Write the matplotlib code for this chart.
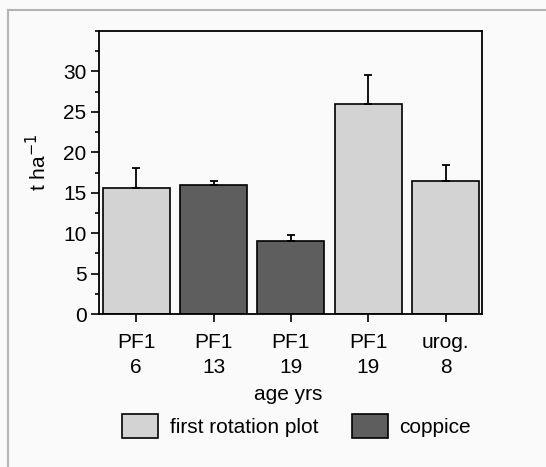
import matplotlib.pyplot as plt
from matplotlib.patches import Patch, Rectangle
from matplotlib.ticker import MultipleLocator

plt.rcParams['font.family'] = ['Liberation Sans', 'DejaVu Sans']

labels = ['PF1\n6', 'PF1\n13', 'PF1\n19', 'PF1\n19', 'urog.\n8']
values = [15.6, 15.9, 9.0, 26.0, 16.4]
errors = [2.4, 0.5, 0.8, 3.6, 2.0]
groups = ['first', 'coppice', 'coppice', 'first', 'first']

light = '#d3d3d3'
dark = '#5e5e5e'
colors = [light if g == 'first' else dark for g in groups]

fig = plt.figure(figsize=(5.46, 4.67), dpi=100)
fig.patch.set_facecolor('#fafafa')
# scanned page frame line (top and left)
fig.patches.append(Rectangle((8 / 546, -0.1), 1.2, 1.1 - 10 / 467, transform=fig.transFigure,
                             fill=False, edgecolor='#b4b4b4', linewidth=1.5))

ax = fig.add_axes([99 / 546, 1 - 314 / 467, 383 / 546, 283 / 467])
ax.set_facecolor('#fafafa')
x = list(range(len(values)))
ax.bar(x, values, width=0.865, color=colors, edgecolor='black', linewidth=1.2,
       yerr=[[0] * len(errors), errors], capsize=3,
       error_kw=dict(ecolor='black', elinewidth=1.3, capthick=1.3), zorder=2)

fs = 15
ax.set_xlim(-0.48, 4.47)
ax.set_ylim(0, 35)
ax.yaxis.set_minor_locator(MultipleLocator(2.5))
ax.set_yticks([0, 5, 10, 15, 20, 25, 30])
ax.set_xticks(x)
ax.set_xticklabels(labels, fontsize=fs, linespacing=1.4)
ax.tick_params(axis='y', labelsize=fs, length=6, width=1.2, pad=3)
ax.tick_params(axis='y', which='minor', length=3, width=1.2)
ax.tick_params(axis='x', length=6, width=1.2, pad=8)
for s in ax.spines.values():
    s.set_linewidth(1.3)

ax.set_ylabel('t ha$^{-1}$', fontsize=fs)
ax.yaxis.set_label_coords(-0.127, 0.534)
ax.set_xlabel('age yrs', fontsize=fs)
ax.xaxis.set_label_coords(0.495, -0.25)

handles = [Patch(facecolor=light, edgecolor='black', linewidth=1.2, label='first rotation plot'),
           Patch(facecolor=dark, edgecolor='black', linewidth=1.2, label='coppice')]
fig.legend(handles=handles, loc='center', bbox_to_anchor=(0.543, 0.088), ncol=2, frameon=False,
           fontsize=fs, handlelength=1.75, handleheight=1.45, handletextpad=0.55,
           columnspacing=1.6)

fig.savefig('out.png', dpi=100, facecolor=fig.get_facecolor())
